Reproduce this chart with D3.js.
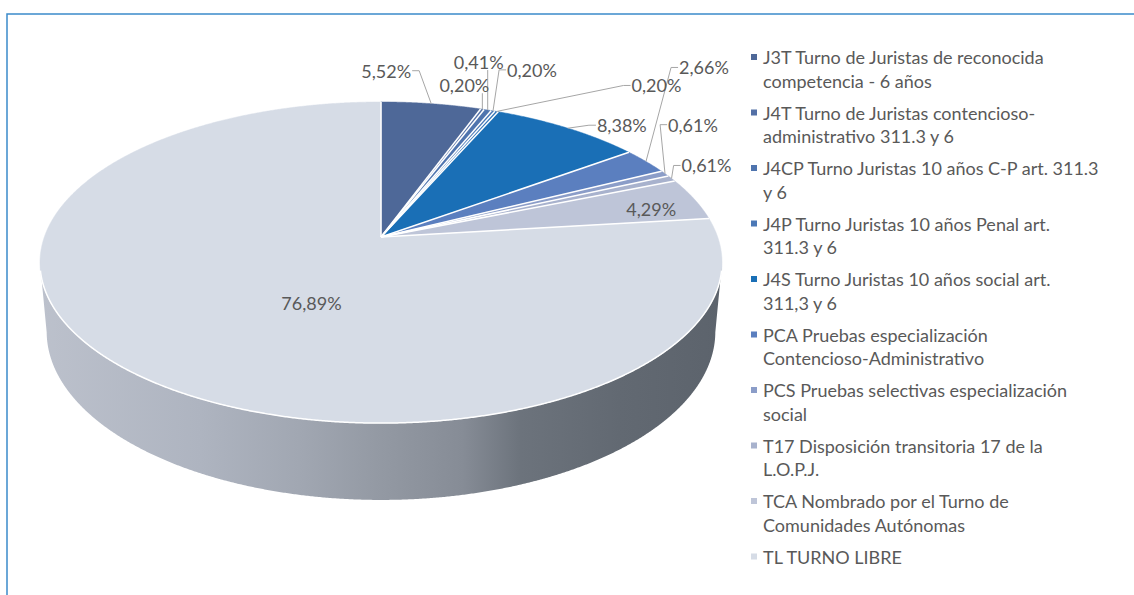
<!DOCTYPE html>
<html>
<head>
<meta charset="utf-8">
<script src="https://cdn.jsdelivr.net/npm/d3@7"></script>
<style>
  html, body { margin: 0; padding: 0; background: #fff; }
  svg { display: block; font-family: Lato, "Open Sans", sans-serif; }
</style>
</head>
<body>
<svg id="chart"></svg>
<script>
//  data (share of each turno, %), clockwise from 12 o'clock
var values = [5.52, 0.20, 0.41, 0.20, 0.20, 8.38, 2.66, 0.61, 0.61, 4.29, 76.89];

//  legend text per slice (already broken in lines as in the original); null = no legend entry
var categories = [
    ["J3T Turno de Juristas de reconocida", "competencia - 6 años"],
    ["J4T Turno de Juristas contencioso-", "administrativo 311.3 y 6"],
    ["J4CP Turno Juristas 10 años C-P art. 311.3", "y 6"],
    ["J4P Turno Juristas 10 años Penal art.", "311.3 y 6"],
    null,
    ["J4S Turno Juristas 10 años social art.", "311,3 y 6"],
    ["PCA Pruebas especialización", "Contencioso-Administrativo"],
    ["PCS Pruebas selectivas especialización", "social"],
    ["T17 Disposición transitoria 17 de la", "L.O.P.J."],
    ["TCA Nombrado por el Turno de", "Comunidades Autónomas"],
    ["TL TURNO LIBRE"]
];

var colors = ["#4e6898", "#5370a6", "#4f74ae", "#4b78b6", "#2f72b8", "#1a6fb6",
              "#5b7fbf", "#8b9dc8", "#a8b2cd", "#bec5d8", "#d6dce6"];

//  label placement relative to the rim point of each slice (layout only)
var labelOffsets = [[-45, -33], [-18, -24], [-9, -48], [39, -41], [160, -26], [54, -3],
                    [58, -94], [28, -49], [35, -13], [-43, 10], [184, -67]];
var labelInside = [false, false, false, false, false, false, false, false, false, true, true];

var width = 1134, height = 595;
var svg = d3.select("#chart").attr("width", width).attr("height", height);

//  frame
svg.append("rect")
    .attr("x", 7).attr("y", 14)
    .attr("width", 1200).attr("height", 700)
    .attr("fill", "none")
    .attr("stroke", "#3b8bca")
    .attr("stroke-width", 1.5);

//  3d perspective of a unit cylinder
var cx = 381, cy = 237,
    tilt = 27.7 * Math.PI / 180,
    dist = 5.569, focal = 1875, depth = 0.234;

function project(angle, r, z) {
    var u = r * Math.sin(angle), v = r * Math.cos(angle);
    var zc = dist + v * Math.cos(tilt) - z * Math.sin(tilt);
    var yc = v * Math.sin(tilt) + z * Math.cos(tilt);
    return [cx + focal * u / zc, cy - focal * yc / zc];
}

function arcPoints(a0, a1, r, z) {
    var pts = d3.range(a0, a1, 0.004).concat([a1]);
    return pts.map(function(a) { return project(a, r, z); });
}

var line = d3.line();
var color = d3.scaleOrdinal().domain(d3.range(values.length)).range(colors);
var arcs = d3.pie().sort(null).value(function(d) { return d; })(values);

var fmt = d3.formatLocale({decimal: ",", thousands: ".", grouping: [3], currency: ["", "€"]}).format(".2f");

//  side of the cake (only the front is visible)
var defs = svg.append("defs");
var grad = defs.append("linearGradient")
    .attr("id", "sideGrad")
    .attr("gradientUnits", "userSpaceOnUse")
    .attr("x1", 40).attr("x2", 722).attr("y1", 0).attr("y2", 0);
[[0, "#bcc1cc"], [0.235, "#aeb4c0"], [0.38, "#a1a7b2"], [0.5, "#9399a3"],
 [0.62, "#868c96"], [0.705, "#6c737c"], [0.85, "#626972"], [1, "#5c636c"]]
    .forEach(function(s) {
        grad.append("stop").attr("offset", s[0]).attr("stop-color", s[1]);
    });

var edge = Math.asin(Math.cos(tilt) / dist);
var sideA0 = Math.PI / 2 + edge, sideA1 = 3 * Math.PI / 2 - edge;
var sidePts = arcPoints(sideA0, sideA1, 1, 0)
    .concat(arcPoints(sideA0, sideA1, 1, -depth).reverse());

svg.append("path")
    .attr("d", line(sidePts) + "Z")
    .attr("fill", "url(#sideGrad)");

//  top face slices
var topG = svg.append("g").attr("class", "top");
topG.selectAll("path.slice")
    .data(arcs)
    .enter().append("path")
    .attr("class", "slice")
    .attr("d", function(d) {
        var pts = [project(0, 0, 0)].concat(arcPoints(d.startAngle, d.endAngle, 1, 0));
        return line(pts) + "Z";
    })
    .attr("fill", function(d, i) { return color(i); })
    .attr("stroke", function(d, i) { return color(i); })
    .attr("stroke-width", 0.5);

//  white separators between slices
topG.selectAll("line.sep")
    .data(arcs)
    .enter().append("line")
    .attr("class", "sep")
    .attr("x1", cx).attr("y1", cy)
    .attr("x2", function(d) { return project(d.startAngle, 1, 0)[0]; })
    .attr("y2", function(d) { return project(d.startAngle, 1, 0)[1]; })
    .attr("stroke", "#fff")
    .attr("stroke-width", 1.5);

//  light rim on the front edge
svg.append("path")
    .attr("d", line(arcPoints(sideA0 + 0.05, sideA1 - 0.05, 1, 0)))
    .attr("fill", "none")
    .attr("stroke", "#ffffff")
    .attr("stroke-width", 1.5);

//  labels
var labelG = svg.append("g").attr("class", "labels");
arcs.forEach(function(d, i) {
    var mid = (d.startAngle + d.endAngle) / 2;
    var anchor = project(mid, 1, 0);
    var lx = anchor[0] + labelOffsets[i][0], ly = anchor[1] + labelOffsets[i][1];

    var t = labelG.append("text")
        .attr("x", lx).attr("y", ly)
        .attr("text-anchor", "middle")
        .attr("dominant-baseline", "central")
        .attr("fill", "#595959")
        .style("font-size", "18px")
        .text(fmt(d.data) + "%");

    if (labelInside[i]) return;

    var bb = t.node().getBBox();
    var pts;
    if (bb.x > anchor[0] + 2) {
        pts = [[bb.x - 1, ly], [bb.x - 8, ly], anchor];
    } else if (bb.x + bb.width < anchor[0] - 2) {
        pts = [[bb.x + bb.width + 1, ly], [bb.x + bb.width + 8, ly], anchor];
    } else {
        var bx = Math.max(bb.x + 4, Math.min(bb.x + bb.width - 4, anchor[0]));
        pts = [[bx, bb.y + bb.height - 3], anchor];
    }
    labelG.insert("path", "text")
        .attr("d", line(pts))
        .attr("fill", "none")
        .attr("stroke", "#a6a6a6")
        .attr("stroke-width", 1);
});

//  legend
var legendX = 751, legendY = 57, entryStep = 55.5, lineStep = 23.5;
var legendItems = categories
    .map(function(c, i) { return {lines: c, index: i}; })
    .filter(function(d) { return d.lines !== null; });

var legend = svg.append("g").attr("class", "legend")
    .selectAll("g")
    .data(legendItems)
    .enter().append("g")
    .attr("transform", function(d, j) { return "translate(" + legendX + "," + (legendY + j * entryStep) + ")"; });

legend.append("rect")
    .attr("x", 0).attr("y", -3)
    .attr("width", 6).attr("height", 6)
    .attr("fill", function(d) { return color(d.index); });

legend.append("text")
    .attr("fill", "#595959")
    .style("font-size", "18px")
    .selectAll("tspan")
    .data(function(d) { return d.lines; })
    .enter().append("tspan")
    .attr("x", 12)
    .attr("y", function(d, k) { return k * lineStep; })
    .attr("dominant-baseline", "central")
    .text(function(d) { return d; });
</script>
</body>
</html>
